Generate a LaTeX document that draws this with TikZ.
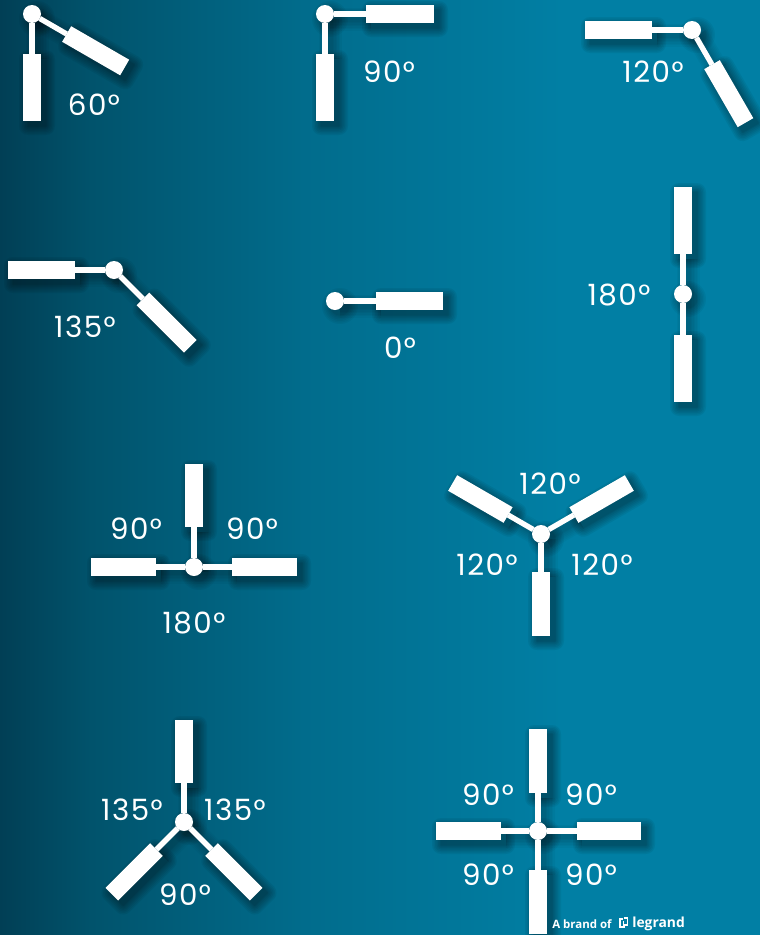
\documentclass[tikz,border=0pt]{standalone}
\usepackage{fontspec}
\setmainfont{Poppins}[LetterSpace=5]
\newfontfamily\logofont{Open Sans}
\usetikzlibrary{calc}
\pgfdeclarelayer{bglayer}
\pgfdeclarelayer{shadowlayer}
\pgfsetlayers{bglayer,shadowlayer,main}
\definecolor{bgA}{HTML}{013F55}
\definecolor{bgB}{HTML}{01536C}
\definecolor{bgC}{HTML}{016C8C}
\definecolor{bgD}{HTML}{017FA4}
\pgfdeclarehorizontalshading{bgshade}{100bp}{color(0bp)=(bgA); color(25bp)=(bgA); color(31bp)=(bgB); color(45bp)=(bgC); color(62bp)=(bgD); color(100bp)=(bgD)}
\tikzset{
  hubnode/.style={circle,fill=white,inner sep=0pt,outer sep=0pt,minimum size=13.5pt},
  barnode/.style={rectangle,fill=white,inner sep=0pt,outer sep=0pt,minimum height=13.5pt},
  stem/.style={draw=white,line width=4pt},
  lab/.style={text=white,font=\fontsize{22}{24}\selectfont,inner sep=0pt},
}
\newcommand\hubat[3]{%
  \node[hubnode] (#1) at (#2,#3) {};
  \begin{pgfonlayer}{shadowlayer}
    \foreach \w in {18,15,12,9,6,3,1}{\fill[black,opacity=.045,shift={(#2+5,#3+5)}] (0,0) circle ({9+\w/2});}
  \end{pgfonlayer}}
\newcommand\armat[5]{%
  \pgfmathsetmacro\barw{#5*0.75}
  \pgfmathsetmacro\barc{#4+#5/2}
  \node[barnode,minimum width=\barw pt,rotate=-#3] (#1) at ($(#2)+(#3:\barc)$) {};
  \draw[stem] (#2) -- (#1);
  \begin{pgfonlayer}{shadowlayer}
    \begin{scope}[shift={($(#2)+(5,5)$)},rotate=-#3]
      \foreach \w in {18,15,12,9,6,3,1}{
        \fill[black,opacity=.055,rounded corners=\w*.375pt] (#4-\w/2,-9-\w/2) rectangle (#4+#5+\w/2,9+\w/2);
        \fill[black,opacity=.03] (0,-2.5-\w/2) rectangle (#4,2.5+\w/2);
      }
    \end{scope}
  \end{pgfonlayer}}
\begin{document}
\begin{tikzpicture}[x=0.75pt,y=-0.75pt]
\useasboundingbox (0,0) rectangle (760,935);
\begin{pgfonlayer}{bglayer}
\path[shading=bgshade] (0,0) rectangle (760,935);
\end{pgfonlayer}

% 60
\hubat{ha}{32}{14}
\armat{aa}{ha}{90}{40}{67}
\armat{ab}{ha}{30}{40}{67}
\node[lab] (la) at (94,105) {60°};
% 90
\hubat{hb}{325}{14}
\armat{ba}{hb}{90}{40}{67}
\armat{bb}{hb}{0}{41}{68}
\node[lab] (lb) at (389,72) {90°};
% 120
\hubat{hc}{692}{30}
\armat{ca}{hc}{180}{40}{67}
\armat{cb}{hc}{60}{40}{67}
\node[lab] (lc) at (653,72) {120°};
% 135
\hubat{hd}{114}{270}
\armat{da}{hd}{180}{39}{67}
\armat{db}{hd}{45}{41}{67}
\node[lab] (ld) at (85,327) {135°};
% 0
\hubat{he}{335}{301}
\armat{ea}{he}{0}{41}{67}
\node[lab] (le) at (400,348) {0°};
% 180
\hubat{hf}{683}{294}
\armat{fa}{hf}{-90}{40}{67}
\armat{fb}{hf}{90}{41}{67}
\node[lab] (lf) at (619,295) {180°};
% T
\hubat{hg}{194}{567}
\armat{ga}{hg}{-90}{40}{63}
\armat{gb}{hg}{180}{38}{65}
\armat{gc}{hg}{0}{38}{65}
\node[lab] (lga) at (136,529) {90°};
\node[lab] (lgb) at (252,529) {90°};
\node[lab] (lgc) at (194,623) {180°};
% Y 120
\hubat{hh}{541}{534}
\armat{ha1}{hh}{210}{38}{64}
\armat{ha2}{hh}{330}{38}{64}
\armat{ha3}{hh}{90}{38}{64}
\node[lab] (lha) at (550,484) {120°};
\node[lab] (lhb) at (487,565) {120°};
\node[lab] (lhc) at (602,565) {120°};
% Y 135
\hubat{hi}{184}{822}
\armat{ia}{hi}{-90}{39}{63}
\armat{ib}{hi}{135}{39}{63}
\armat{ic}{hi}{45}{39}{63}
\node[lab] (lia) at (132,810) {135°};
\node[lab] (lib) at (235,810) {135°};
\node[lab] (lic) at (185,895) {90°};
% cross
\hubat{hj}{538}{831}
\armat{ja}{hj}{-90}{38}{64}
\armat{jb}{hj}{180}{37}{65}
\armat{jc}{hj}{0}{39}{64}
\armat{jd}{hj}{90}{39}{64}
\node[lab] (lja) at (488,795) {90°};
\node[lab] (ljb) at (591,795) {90°};
\node[lab] (ljc) at (488,875) {90°};
\node[lab] (ljd) at (591,875) {90°};
% brand
\node[text=white,font=\logofont\bfseries\fontsize{8.6}{10}\selectfont,inner sep=0pt,anchor=west] (brand) at (552,924) {A brand of};
\draw[white,line width=1.3pt] (623,919) -- (620,919) -- (620,927) -- (625,927);
\draw[white,line width=1.3pt] (624,918) -- (627.5,918) -- (627.5,925) -- (623.5,925) -- (623.5,921);
\node[text=white,font=\logofont\bfseries\fontsize{10.4}{12}\selectfont,inner sep=0pt,anchor=west] (legrand) at (632,923.5) {legrand};
\end{tikzpicture}
\end{document}
